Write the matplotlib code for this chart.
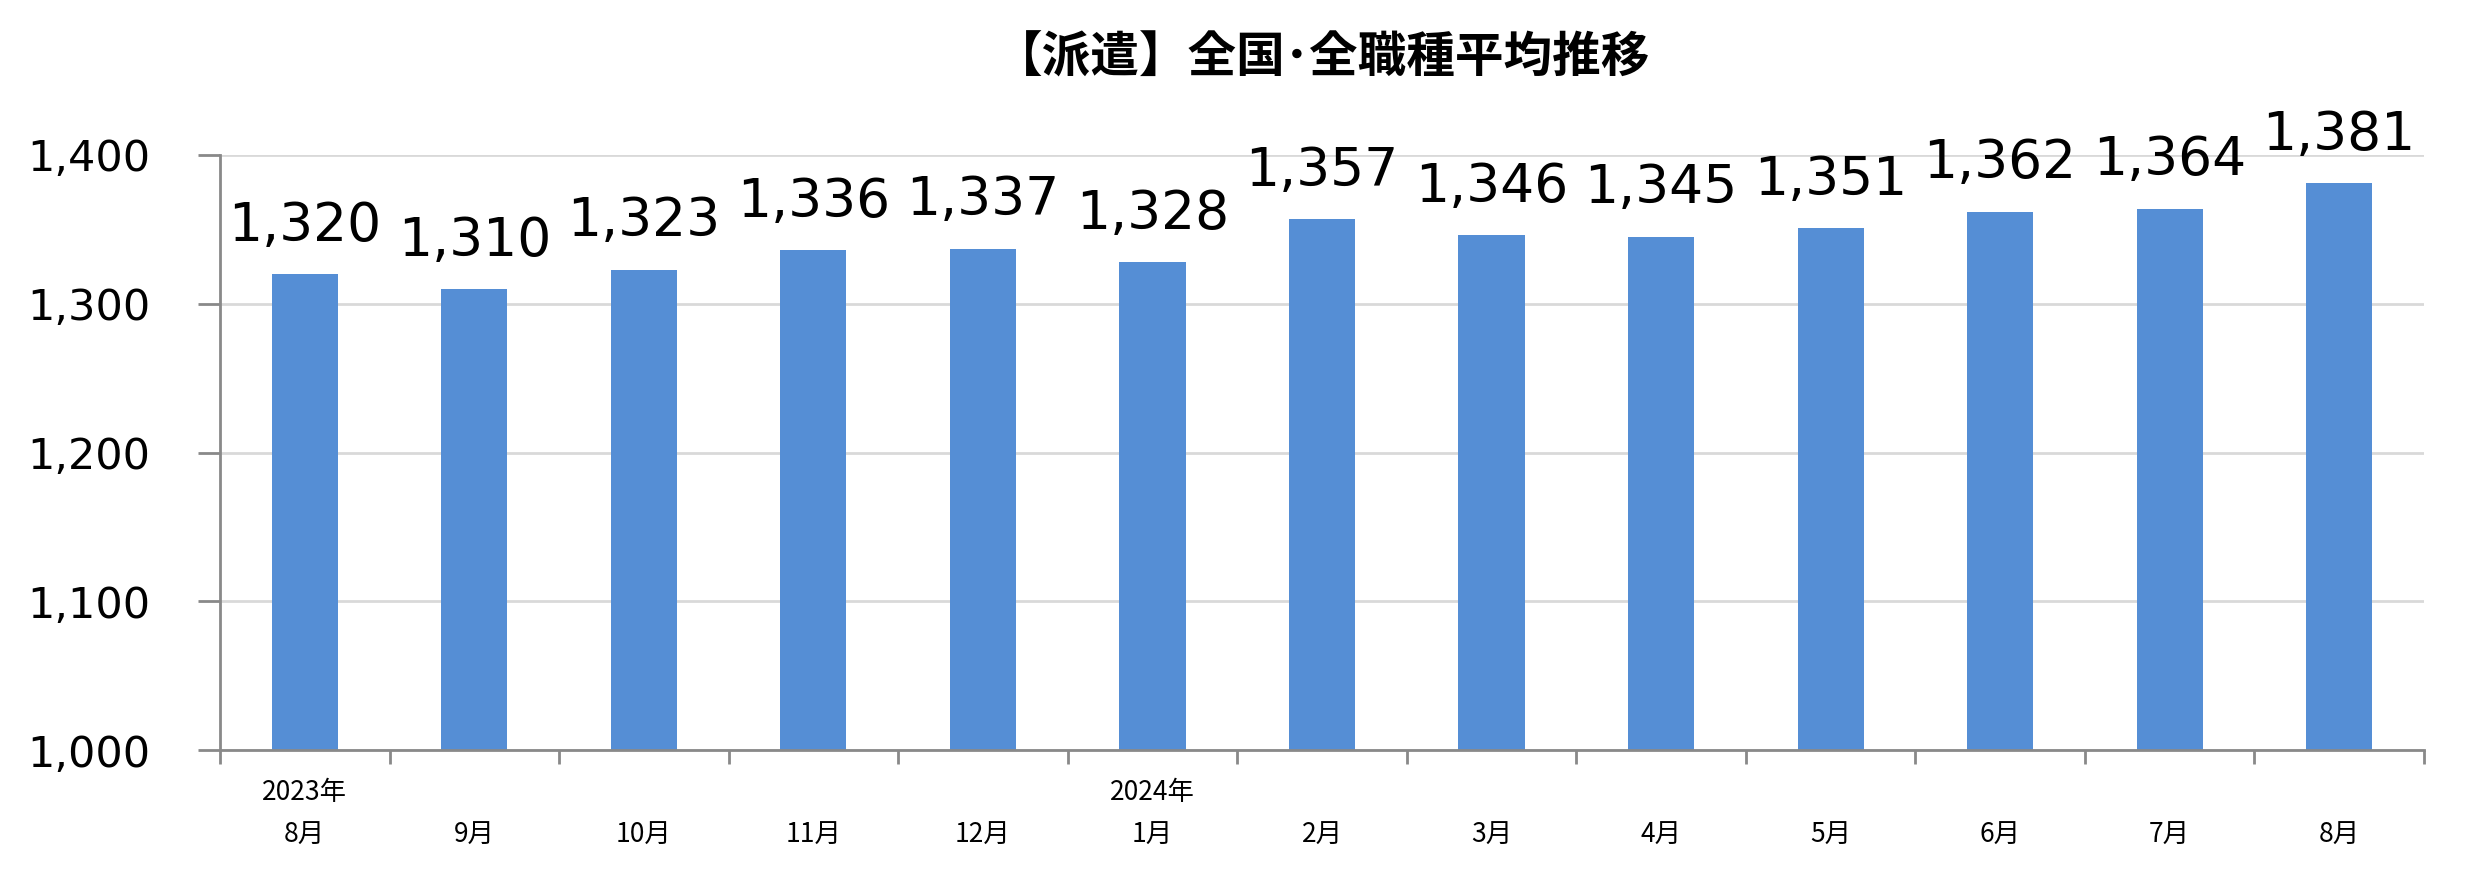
import matplotlib
matplotlib.use("Agg")
import matplotlib.pyplot as plt
import numpy as np

# Data
months = ["8月", "9月", "10月", "11月", "12月", "1月", "2月", "3月", "4月", "5月", "6月", "7月", "8月"]
years = ["2023年", "", "", "", "", "2024年", "", "", "", "", "", "", ""]
wages = [1320, 1310, 1323, 1336, 1337, 1328, 1357, 1346, 1345, 1351, 1362, 1364, 1381]
yticks = [1000, 1100, 1200, 1300, 1400]

TITLE = "【派遣】全国･全職種平均推移"
BAR_COLOR = "#558ED5"
AXIS_COLOR = "#898989"
GRID_COLOR = "#D9D9D9"
CJK = ["Noto Sans CJK JP", "DejaVu Sans"]

fig = plt.figure(figsize=(24.75, 8.91), dpi=100)
ax = fig.add_axes([220 / 2475, 1 - 750 / 891, 2204 / 2475, 595 / 891])

x = np.arange(len(wages))
ax.bar(x, [w - yticks[0] for w in wages], bottom=yticks[0], width=0.39,
       color=BAR_COLOR, zorder=3)

# Value labels
for xi, w in zip(x, wages):
    ax.annotate(f"{w:,}", (xi, w), xytext=(0, 24), textcoords="offset points",
                ha="center", va="baseline", fontsize=38.5, family="DejaVu Sans",
                clip_on=False)

ax.set_xlim(-0.5, len(wages) - 0.5)
ax.set_ylim(yticks[0], yticks[-1])
ax.set_yticks(yticks)
ax.set_yticklabels([f"{v:,}" for v in yticks], fontsize=31, family="DejaVu Sans")
ax.yaxis.grid(True, color=GRID_COLOR, lw=2, zorder=0)

# x axis: ticks at category boundaries, labels centred on bars
ax.set_xticks(np.arange(-0.5, len(wages)), minor=False)
ax.set_xticklabels([])
ax.set_xticks(x, minor=True)
ax.set_xticklabels([f"{yy}\n{m}" for yy, m in zip(years, months)], minor=True,
                   fontsize=19, family=CJK, linespacing=1.75)
ax.tick_params(axis="x", which="minor", length=0, pad=21)
ax.tick_params(axis="x", which="major", length=10, width=2, color=AXIS_COLOR,
               direction="out")
ax.tick_params(axis="y", length=16, width=2, color=AXIS_COLOR, pad=34)

for side in ["top", "right"]:
    ax.spines[side].set_visible(False)
for side in ["left", "bottom"]:
    ax.spines[side].set_color(AXIS_COLOR)
    ax.spines[side].set_linewidth(2)
    ax.spines[side].set_zorder(4)

fig.text((220 + 2424) / 2 / 2475, 1 - 58 / 891, TITLE, ha="center", va="center",
         fontsize=35, fontweight="bold", family=CJK)

fig.savefig("out.png", dpi=100)
